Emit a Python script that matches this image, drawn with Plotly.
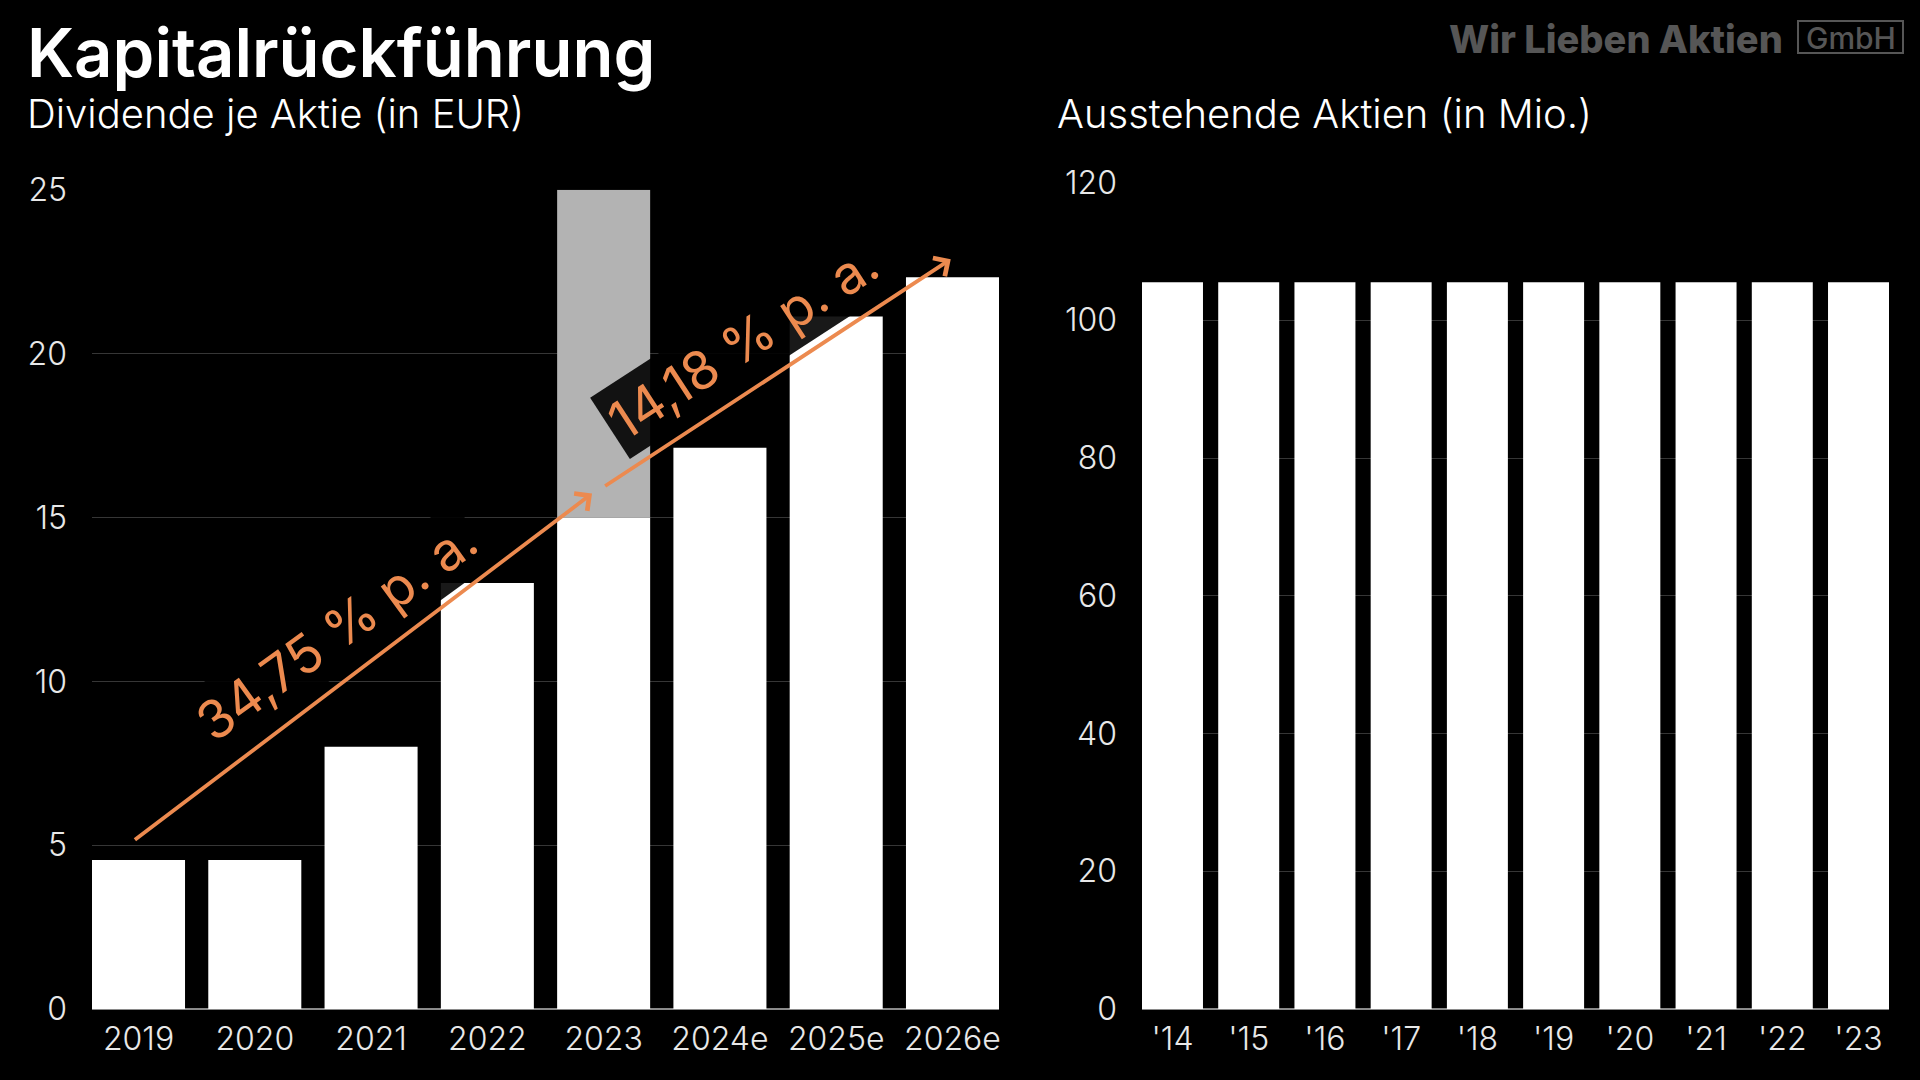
import plotly.graph_objects as go

# ---------------- data ----------------
div_years = ["2019", "2020", "2021", "2022", "2023", "2024e", "2025e", "2026e"]
div_values = [4.55, 4.55, 8.0, 13.0, 15.0, 17.13, 21.13, 22.33]
highlight_year = ["2023"]
highlight_base = [15.0]
highlight_top = [25.0]

share_years = ["'14", "'15", "'16", "'17", "'18", "'19", "'20", "'21", "'22", "'23"]
share_values = [105.5] * 10

cagr_labels = ["34,75 % p. a.", "14,18 % p. a."]
# arrows: (tail x index, tail y, head x index, head y)
cagr_arrows = [(-0.044, 5.13, 3.90, 15.73), (4.0, 15.93, 6.985, 22.88)]
cagr_label_pos = [(1.7, 11.55, -36), (5.2, 20.35, -33)]

W, H = 1920, 1080
FONT = "Inter, Lato, 'Noto Sans', sans-serif"
ORANGE = "#EC8A4F"
GRID = "#363636"

def px(x):
    return x / W

def py(y):
    return 1 - y / H

fig = go.Figure()

fig.add_trace(go.Bar(x=div_years, y=div_values, marker=dict(color="white", line=dict(width=0)),
                     xaxis="x", yaxis="y", hoverinfo="skip"))
fig.add_trace(go.Bar(x=highlight_year, y=[t - b for t, b in zip(highlight_top, highlight_base)],
                     base=highlight_base, marker=dict(color="#b3b3b3", line=dict(width=0)),
                     xaxis="x", yaxis="y", hoverinfo="skip"))
fig.add_trace(go.Bar(x=share_years, y=share_values, marker=dict(color="white", line=dict(width=0)),
                     xaxis="x2", yaxis="y2", hoverinfo="skip"))

tickfont = dict(family=FONT, size=32, color="#e8e8e8", weight=300)

axis_common = dict(showline=False, ticks="", tickfont=tickfont, fixedrange=True, automargin=False)

fig.update_layout(
    width=W, height=H,
    paper_bgcolor="black", plot_bgcolor="black",
    margin=dict(l=0, r=0, t=0, b=0, pad=0, autoexpand=False),
    showlegend=False,
    barmode="overlay",
    bargap=0.2,
    xaxis=dict(domain=[px(92), px(999)], range=[-0.4, 7.4], type="category",
               showgrid=False, zeroline=False, ticklabelstandoff=8, anchor="y", **axis_common),
    yaxis=dict(domain=[py(1009), py(189.8)], range=[0, 25], tickvals=[0, 5, 10, 15, 20, 25],
               showgrid=True, gridcolor=GRID, gridwidth=1, zeroline=True, zerolinecolor="#8a8a8a",
               zerolinewidth=1.5, ticklabelstandoff=24, anchor="x", **axis_common),
    xaxis2=dict(domain=[px(1142), px(1889)], range=[-0.4, 9.4], type="category",
                showgrid=False, zeroline=False, ticklabelstandoff=8, anchor="y2", **axis_common),
    yaxis2=dict(domain=[py(1009), py(182.5)], range=[0, 120], tickvals=[0, 20, 40, 60, 80, 100, 120],
                showgrid=True, gridcolor=GRID, gridwidth=1, zeroline=True, zerolinecolor="#8a8a8a",
                zerolinewidth=1.5, ticklabelstandoff=24, anchor="x2", **axis_common),
)

annotations = []
# CAGR labels (with semi-opaque dark boxes)
for label, (lx, ly, ang) in zip(cagr_labels, cagr_label_pos):
    annotations.append(dict(x=lx, y=ly, xref="x", yref="y", text=label, showarrow=False,
                            textangle=ang, bgcolor="rgba(0,0,0,0.9)", borderpad=4,
                            font=dict(family=FONT, size=53, color=ORANGE, weight=400)))
# arrows
for (tx, ty, hx, hy) in cagr_arrows:
    annotations.append(dict(x=hx, y=hy, xref="x", yref="y", ax=tx, ay=ty, axref="x", ayref="y",
                            text="", showarrow=True, arrowhead=4, arrowsize=1.1, arrowwidth=3.8,
                            arrowcolor=ORANGE, standoff=0, startstandoff=0))

# titles
annotations += [
    dict(x=px(25), y=py(52), xref="paper", yref="paper", xanchor="left", yanchor="middle",
         text="Kapitalrückführung", showarrow=False,
         font=dict(family=FONT, size=67, color="white", weight=600)),
    dict(x=px(25), y=py(114), xref="paper", yref="paper", xanchor="left", yanchor="middle",
         text="Dividende je Aktie (in EUR)", showarrow=False,
         font=dict(family=FONT, size=40, color="white", weight=300)),
    dict(x=px(1055), y=py(114), xref="paper", yref="paper", xanchor="left", yanchor="middle",
         text="Ausstehende Aktien (in Mio.)", showarrow=False,
         font=dict(family=FONT, size=40, color="white", weight=300)),
    dict(x=px(1785), y=py(39), xref="paper", yref="paper", xanchor="right", yanchor="middle",
         text="Wir Lieben Aktien", showarrow=False,
         font=dict(family=FONT, size=38, color="#565656", weight=800)),
    dict(x=px(1850.5), y=py(38), xref="paper", yref="paper", xanchor="center", yanchor="middle",
         text="GmbH", showarrow=False,
         font=dict(family=FONT, size=30, color="#565656", weight=500)),
]
fig.update_layout(annotations=annotations)

fig.add_shape(type="rect", xref="paper", yref="paper", x0=px(1798), x1=px(1903), y0=py(53), y1=py(21),
              line=dict(color="#565656", width=2), fillcolor="rgba(0,0,0,0)")

fig.write_html("out.html", config={"displayModeBar": False},
               post_script="document.body.style.margin='0';document.body.style.background='black';")
